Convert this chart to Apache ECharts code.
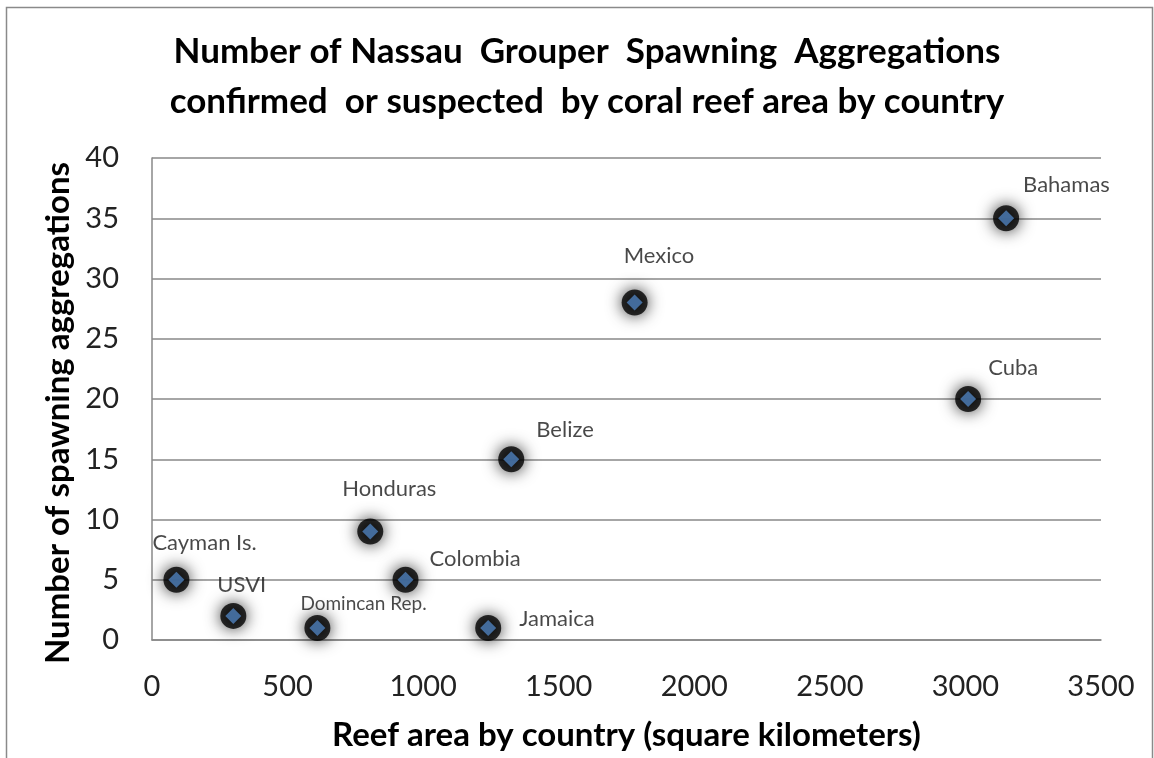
<!DOCTYPE html>
<html>
<head>
<meta charset="utf-8">
<script src="https://cdn.jsdelivr.net/npm/echarts@6/dist/echarts.min.js"></script>
<style>
html,body{margin:0;padding:0;background:#fff;}
#chart{width:1154px;height:758px;}
</style>
</head>
<body>
<div id="chart"></div>
<script>
// ---- data ----
const countries = ['Bahamas', 'Mexico', 'Cuba', 'Belize', 'Honduras', 'Colombia', 'Jamaica', 'Domincan Rep.', 'USVI', 'Cayman Is.'];
const reefArea = [3150, 1780, 3010, 1325, 805, 935, 1240, 610, 300, 90];
const aggregations = [35, 28, 20, 15, 9, 5, 1, 1, 2, 5];
const xTicks = [0, 500, 1000, 1500, 2000, 2500, 3000, 3500];
const yTicks = [0, 5, 10, 15, 20, 25, 30, 35, 40];

// ---- label placement (style only) ----
const labelOffsets = {
  'Bahamas': [17, -33], 'Mexico': [-11, -47], 'Cuba': [20, -31], 'Belize': [25, -29],
  'Honduras': [-28, -43], 'Colombia': [24, -21], 'Jamaica': [31, -9],
  'Domincan Rep.': [-17, -24], 'USVI': [-16, -31], 'Cayman Is.': [-24, -37]
};

const FONT = 'Lato, "Open Sans", sans-serif';
const pts = countries.map((c, i) => [reefArea[i], aggregations[i], c]);

const chart = echarts.init(document.getElementById('chart'));
chart.setOption({
  animation: false,
  backgroundColor: '#fff',
  title: {
    text: 'Number of Nassau  Grouper  Spawning  Aggregations\nconfirmed  or suspected  by coral reef area by country',
    left: 582, textAlign: 'center', top: 22,
    textStyle: { fontFamily: FONT, fontWeight: 'bold', fontSize: 35, lineHeight: 50, color: '#000' }
  },
  graphic: [{
    type: 'rect', left: 4, top: 5,
    shape: { width: 1146, height: 760 },
    style: { fill: 'none', stroke: '#8a8a8a', lineWidth: 1.5 },
    silent: true
  }],
  grid: { left: 152, right: 53, top: 158, bottom: 118 },
  xAxis: {
    type: 'value', min: xTicks[0], max: xTicks[xTicks.length - 1], interval: 500,
    name: 'Reef area by country (square kilometers)',
    nameLocation: 'middle', nameGap: 79,
    nameTextStyle: { fontFamily: FONT, fontWeight: 'bold', fontSize: 33, color: '#000' },
    axisLine: { show: true, lineStyle: { color: '#888', width: 1.5 } },
    axisTick: { show: false },
    splitLine: { show: false },
    axisLabel: { fontFamily: FONT, fontSize: 29, color: '#222', margin: 32, formatter: v => String(v) }
  },
  yAxis: {
    type: 'value', min: yTicks[0], max: yTicks[yTicks.length - 1], interval: 5,
    name: 'Number of spawning aggregations',
    nameLocation: 'middle', nameGap: 74, nameRotate: 90,
    nameTextStyle: { fontFamily: FONT, fontWeight: 'bold', fontSize: 33, color: '#000', padding: [0, 28, 0, 0] },
    axisLine: { show: true, lineStyle: { color: '#888', width: 1.5 } },
    axisTick: { show: false },
    splitLine: { show: true, lineStyle: { color: '#888', width: 1.5 } },
    axisLabel: { fontFamily: FONT, fontSize: 29, color: '#222', margin: 33, formatter: v => String(v) }
  },
  series: [
    {
      type: 'scatter', name: 'glow', silent: true, z: 2,
      data: pts,
      symbol: 'circle', symbolSize: 26,
      itemStyle: { color: '#000', shadowBlur: 16, shadowColor: '#000' }
    },
    {
      type: 'scatter', name: 'points', z: 3,
      data: pts.map(p => ({
        value: p,
        label: {
          show: true, position: 'inside', align: 'left', verticalAlign: 'middle',
          offset: labelOffsets[p[2]],
          fontSize: p[2] === 'Domincan Rep.' ? 19 : 22
        }
      })),
      symbol: 'diamond', symbolSize: 16,
      itemStyle: { color: '#4F81BD' },
      label: {
        show: true, formatter: p => p.value[2],
        fontFamily: FONT, color: '#1a1a1a'
      }
    }
  ]
});
</script>
</body>
</html>
